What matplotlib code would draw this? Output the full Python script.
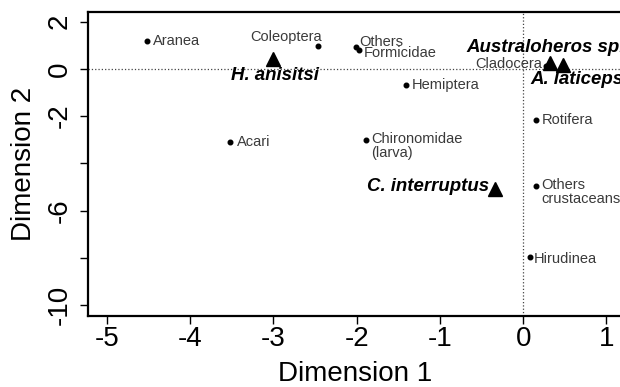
import matplotlib
matplotlib.use('Agg')
import matplotlib.pyplot as plt

plt.rcParams['font.family'] = ['Liberation Sans', 'DejaVu Sans']

# prey items (dots)
prey_names = ['Aranea', 'Coleoptera', 'Others', 'Formicidae', 'Hemiptera', 'Acari',
              'Chironomidae\n(larva)', 'Cladocera', 'Rotifera', 'Others\ncrustaceans',
              'Hirudinea']
prey_x = [-4.52, -2.46, -2.01, -1.97, -1.41, -3.52, -1.89, 0.27, 0.16, 0.16, 0.08]
prey_y = [1.19, 0.97, 0.93, 0.80, -0.68, -3.09, -3.00, 0.13, -2.16, -4.96, -7.97]

# fish species (triangles)
fish_names = ['H. anisitsi', 'Australoheros sp.', 'A. laticeps', 'C. interruptus']
fish_x = [-3.00, 0.32, 0.48, -0.34]
fish_y = [0.44, 0.25, 0.17, -5.08]

x_ticks = [-5, -4, -3, -2, -1, 0, 1]
y_ticks = [2, 0, -2, -4, -6, -8, -10]
y_ticklabels = ['2', '0', '-2', '', '-6', '', '-10']

# label placement: offset in px (dx, dy), ha, va
prey_lab = [(6, 0, 'left', 'center'), (4, 9, 'right', 'center'), (3, 5, 'left', 'center'),
            (5, -3, 'left', 'center'), (6, 0, 'left', 'center'), (7, 0, 'left', 'center'),
            (5, 8, 'left', 'top'), (-4, 2, 'right', 'center'), (5, 0, 'left', 'center'),
            (5, 8, 'left', 'top'), (4, -2, 'left', 'center')]
fish_lab = [(2, -17, 'center', 'center'), (-83, 16, 'left', 'center'),
            (-33, -15, 'left', 'center'), (-6, 2, 'right', 'center')]

PX = 0.72  # points per pixel at dpi 100

fig = plt.figure(figsize=(6.2, 3.87), dpi=100)
# right edge of the box runs just past the picture edge
ax = fig.add_axes([0.142, 0.183, 0.861, 0.786])

ax.axhline(0, color='#444444', linestyle=':', linewidth=0.9, zorder=1)
ax.axvline(0, color='#444444', linestyle=':', linewidth=0.9, zorder=1)

ax.plot(prey_x, prey_y, 'o', color='black', markersize=3.3, linestyle='none', zorder=3)
ax.plot(fish_x, fish_y, '^', color='black', markersize=10, linestyle='none', zorder=4)

for name, x, y, (dx, dy, ha, va) in zip(prey_names, prey_x, prey_y, prey_lab):
    ax.annotate(name, (x, y), xytext=(dx * PX, dy * PX), textcoords='offset points',
                ha=ha, va=va, fontsize=10.5, color='#3a3a3a', linespacing=1.0, zorder=5)

for name, x, y, (dx, dy, ha, va) in zip(fish_names, fish_x, fish_y, fish_lab):
    ax.annotate(name, (x, y), xytext=(dx * PX, dy * PX), textcoords='offset points',
                ha=ha, va=va, fontsize=13.4, fontweight='bold', fontstyle='italic',
                color='black', zorder=5)

ax.set_xlim(-5.225, 1.185)
ax.set_ylim(-10.47, 2.41)
ax.set_xticks(x_ticks)
ax.set_xticklabels([str(t) for t in x_ticks])
ax.set_yticks(y_ticks)
ax.set_yticklabels(y_ticklabels, rotation=90, va='center')

for s in ax.spines.values():
    s.set_linewidth(1.6)
ax.tick_params(axis='both', direction='out', length=5.8, width=1.0, labelsize=20)
ax.tick_params(axis='x', pad=1.5)
ax.tick_params(axis='y', pad=5)

ax.set_xlabel('Dimension 1', fontsize=20, labelpad=6)
ax.set_ylabel('Dimension 2', fontsize=20, labelpad=7)

fig.savefig('out.png', dpi=100)
